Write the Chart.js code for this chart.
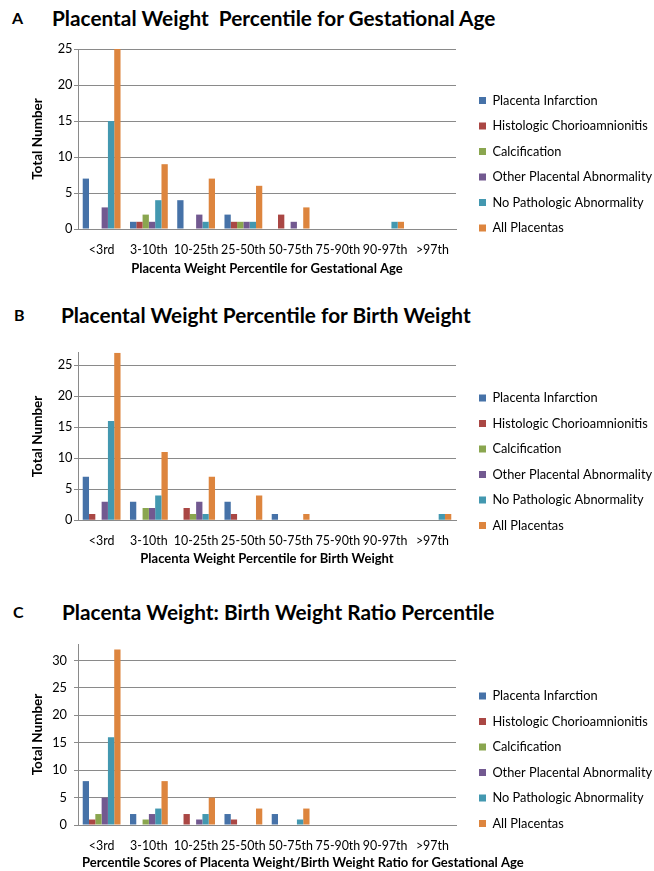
<!DOCTYPE html>
<html><head><meta charset="utf-8">
<script src="https://cdn.jsdelivr.net/npm/chart.js@4.4.0/dist/chart.umd.min.js"></script>
<style>
html,body{margin:0;padding:0;background:#fff;}
#page{position:relative;width:654px;height:871px;overflow:hidden;font-family:Lato,sans-serif;color:#000;}
.letter{position:absolute;font-weight:bold;font-size:16px;line-height:20px;}
.title{position:absolute;font-weight:bold;font-size:20.8px;line-height:24px;white-space:pre;}
canvas{position:absolute;left:0;}
</style></head><body>
<div id="page">
  <div class="letter" style="left:12px;top:8px">A</div>
  <div class="title" style="left:52px;top:6px">Placental Weight  Percentile for Gestational Age</div>
  <canvas id="cA" width="654" height="290" style="top:0px;width:654px;height:290px"></canvas>

  <div class="letter" style="left:14px;top:305px">B</div>
  <div class="title" style="left:61px;top:303px">Placental Weight Percentile for Birth Weight</div>
  <canvas id="cB" width="654" height="290" style="top:290px;width:654px;height:290px"></canvas>

  <div class="letter" style="left:13px;top:602px">C</div>
  <div class="title" style="left:62px;top:600px">Placenta Weight: Birth Weight Ratio Percentile</div>
  <canvas id="cC" width="654" height="291" style="top:580px;width:654px;height:291px"></canvas>
</div>
<script>
// ---- data ----
const categories = ['<3rd', '3-10th', '10-25th', '25-50th', '50-75th', '75-90th', '90-97th', '>97th'];
const seriesNames = ['Placenta Infarction', 'Histologic Chorioamnionitis', 'Calcification',
  'Other Placental Abnormality', 'No Pathologic Abnormality', 'All Placentas'];

// A: placental weight percentile for gestational age
const aInfarction = [7, 1, 4, 2, 0, 0, 0, 0];
const aChorio     = [0, 1, 0, 1, 2, 0, 0, 0];
const aCalc       = [0, 2, 0, 1, 0, 0, 0, 0];
const aOther      = [3, 1, 2, 1, 1, 0, 0, 0];
const aNoPath     = [15, 4, 1, 1, 0, 0, 1, 0];
const aAll        = [25, 9, 7, 6, 3, 0, 1, 0];

// B: placental weight percentile for birth weight
const bInfarction = [7, 3, 0, 3, 1, 0, 0, 0];
const bChorio     = [1, 0, 2, 1, 0, 0, 0, 0];
const bCalc       = [0, 2, 1, 0, 0, 0, 0, 0];
const bOther      = [3, 2, 3, 0, 0, 0, 0, 0];
const bNoPath     = [16, 4, 1, 0, 0, 0, 0, 1];
const bAll        = [27, 11, 7, 4, 1, 0, 0, 1];

// C: placenta weight / birth weight ratio percentile
const cInfarction = [8, 2, 0, 2, 2, 0, 0, 0];
const cChorio     = [1, 0, 2, 1, 0, 0, 0, 0];
const cCalc       = [2, 1, 0, 0, 0, 0, 0, 0];
const cOther      = [5, 2, 1, 0, 0, 0, 0, 0];
const cNoPath     = [16, 3, 2, 0, 1, 0, 0, 0];
const cAll        = [32, 8, 5, 3, 3, 0, 0, 0];

const yTicksStep = 5;
const yTitle = 'Total Number';
const xTitleA = 'Placenta Weight Percentile for Gestational Age';
const xTitleB = 'Placenta Weight Percentile for Birth Weight';
const xTitleC = 'Percentile Scores of Placenta Weight/Birth Weight Ratio for Gestational Age';

// ---- styles ----
const seriesColors = ['#4672A8', '#AA4744', '#8AA64F', '#725990', '#4398B0', '#DD853E'];
const FONT = 'Lato';
Chart.defaults.font.family = FONT;
Chart.defaults.color = '#000';

// places the legend (and an optional wide bottom title) outside the plot area
const boxPlace = {
  id: 'boxPlace',
  afterLayout(chart, args, opts) {
    const lg = chart.legend;
    if (lg && opts.boxX != null) {
      const lab = chart.options.plugins.legend.labels;
      const pad = lab.padding;
      const fs = lab.font.size;
      const w = lg.width, h = lg.height;
      lg.left = opts.boxX - pad; lg.right = lg.left + w;
      lg.top = opts.firstY - fs / 2 - pad; lg.bottom = lg.top + h;
    }
    const tb = chart.titleBlock;
    if (tb && opts.titleX != null && chart.options.plugins.title.display) {
      tb.left = opts.titleX; tb.right = opts.titleX + 520;
    }
  }
};

function makeChart(id, series, cfg) {
  const ctx = document.getElementById(id);
  const wideTitle = !!cfg.wideTitle;
  return new Chart(ctx, {
    type: 'bar',
    data: {
      labels: categories,
      datasets: series.map((vals, i) => ({
        label: seriesNames[i],
        data: vals,
        backgroundColor: seriesColors[i],
        borderWidth: 0,
        categoryPercentage: 0.8,
        barPercentage: 1.0
      }))
    },
    options: {
      responsive: false,
      animation: false,
      devicePixelRatio: 1,
      layout: { padding: { top: cfg.top, left: 0, right: 654 - 456, bottom: 0 } },
      plugins: {
        legend: {
          position: 'chartArea',
          align: 'start',
          labels: { boxWidth: 7, boxHeight: 7, padding: 12.7, color: '#000',
                    font: { family: FONT, size: 12.8 } }
        },
        title: {
          display: wideTitle,
          text: cfg.xTitle,
          position: 'bottom',
          align: 'start',
          color: '#000',
          font: { family: FONT, size: 13, weight: 'bold', lineHeight: 1.2 },
          padding: 0
        },
        tooltip: { enabled: false },
        boxPlace: { boxX: 479, firstY: cfg.legendY, titleX: cfg.titleX }
      },
      scales: {
        x: {
          grid: { display: false, drawTicks: false },
          border: { display: true, color: '#8a8a8a', width: 1 },
          ticks: { padding: cfg.xTickPad, autoSkip: false, maxRotation: 0, color: '#000',
                   font: { family: FONT, size: 12.4 } },
          title: { display: !wideTitle, text: cfg.xTitle, color: '#000',
                   font: { family: FONT, size: 13, weight: 'bold' },
                   padding: { top: 0, bottom: cfg.xTitlePad } },
          afterFit(scale) { scale.height = cfg.xHeight; }
        },
        y: {
          min: 0, max: cfg.yMax,
          grid: { color: '#8a8a8a', lineWidth: 1, tickLength: 4, drawTicks: true },
          border: { display: true, color: '#8a8a8a', width: 1 },
          ticks: { stepSize: yTicksStep, includeBounds: false, padding: cfg.yTickPad, color: '#000',
                   font: { family: FONT, size: 12.8 } },
          title: { display: true, text: yTitle, color: '#000',
                   font: { family: FONT, size: 13.5, weight: 'bold' },
                   padding: { top: 29.9, bottom: 0 } },
          afterFit(scale) { scale.width = 78; }
        }
      }
    },
    plugins: [boxPlace]
  });
}

makeChart('cA', [aInfarction, aChorio, aCalc, aOther, aNoPath, aAll],
  { top: 49, yMax: 25, xHeight: 61, xTickPad: 13.2, xTitlePad: 13, yTickPad: 1.5,
    xTitle: xTitleA, legendY: 100.5 });
makeChart('cB', [bInfarction, bChorio, bCalc, bOther, bNoPath, bAll],
  { top: 62.7, yMax: 27, xHeight: 59.7, xTickPad: 12.9, xTitlePad: 13, yTickPad: 1.5,
    xTitle: xTitleB, legendY: 108 });
makeChart('cC', [cInfarction, cChorio, cCalc, cOther, cNoPath, cAll],
  { top: 64, yMax: 33, xHeight: 30.4, xTickPad: 13.2, xTitlePad: 0, yTickPad: 7,
    xTitle: xTitleC, legendY: 116, wideTitle: true, titleX: 82 });
</script>
</body></html>
